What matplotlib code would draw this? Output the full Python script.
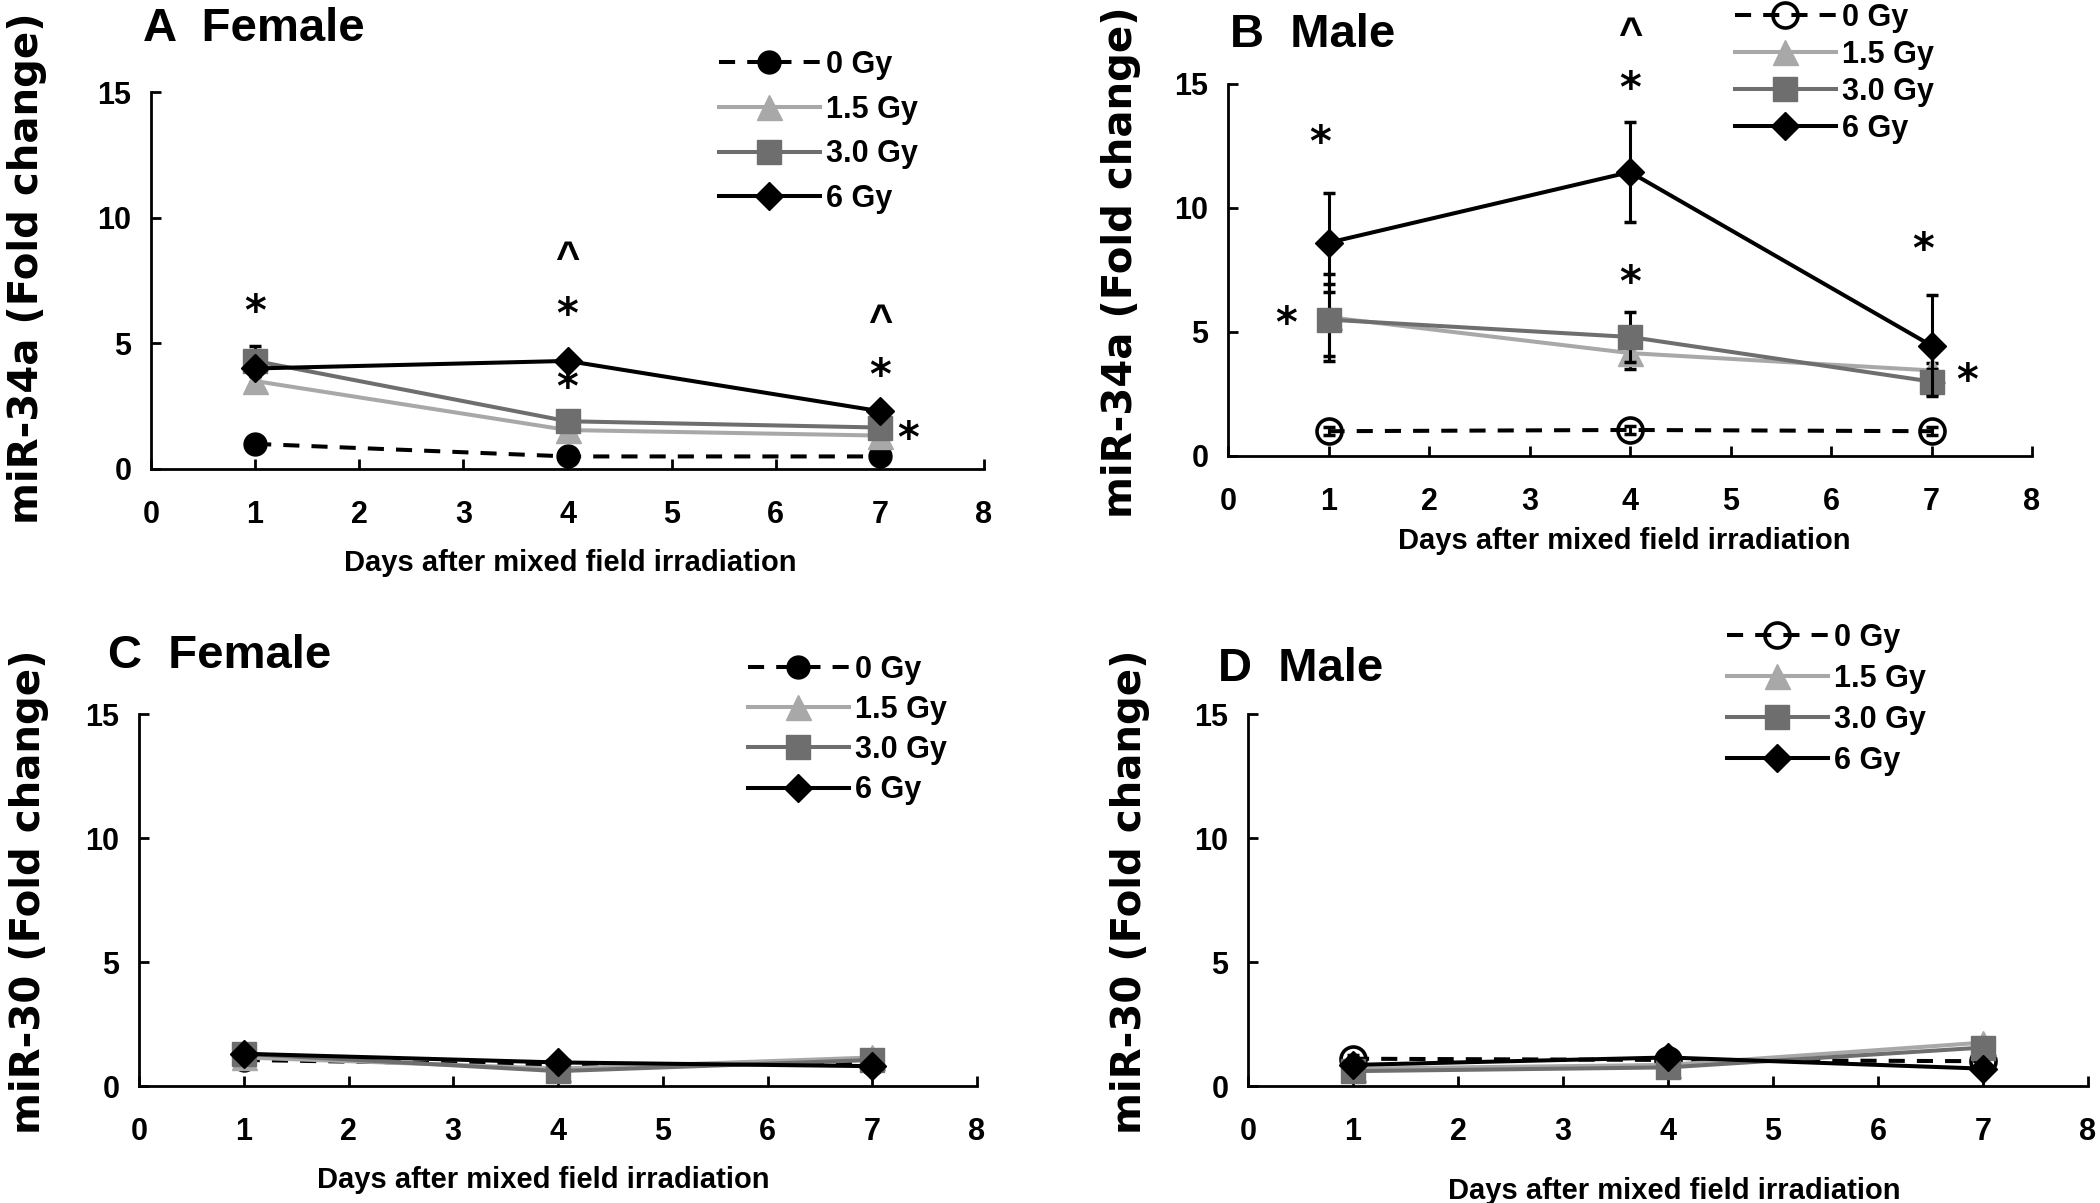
"""miR-34a / miR-30 fold change after mixed field irradiation, four panels."""
import matplotlib
matplotlib.use("Agg")
import matplotlib.pyplot as plt

W, H = 2100, 1203
fig = plt.figure(figsize=(W / 100, H / 100), dpi=100)

NARROW = ["Liberation Sans Narrow", "Liberation Sans", "DejaVu Sans"]
WIDE = ["DejaVu Sans"]

days = [1, 4, 7]
doses = ["0 Gy", "1.5 Gy", "3.0 Gy", "6 Gy"]

# ---- data ----
# A: miR-34a, female
a_0gy = [1.0, 0.5, 0.5]
a_15gy = [3.5, 1.55, 1.33]
a_30gy = [4.3, 1.9, 1.65]
a_6gy = [4.0, 4.3, 2.3]
a_err = [[0.05, 0.05, 0.05], [0.2, 0.15, 0.1], [0.6, 0.2, 0.15], [0.2, 0.2, 0.2]]

# B: miR-34a, male
b_0gy = [1.0, 1.05, 1.0]
b_15gy = [5.6, 4.15, 3.45]
b_30gy = [5.5, 4.8, 3.0]
b_6gy = [8.6, 11.45, 4.45]
b_err = [[0.15, 0.15, 0.15], [1.75, 0.65, 0.3], [1.45, 1.0, 0.5], [2.0, 2.0, 2.05]]

# C: miR-30, female
c_0gy = [1.05, 0.85, 0.9]
c_15gy = [1.15, 0.7, 1.15]
c_30gy = [1.3, 0.6, 1.05]
c_6gy = [1.3, 0.95, 0.8]
c_err = [[0.1, 0.1, 0.1], [0.1, 0.1, 0.15], [0.1, 0.1, 0.1], [0.1, 0.1, 0.1]]

# D: miR-30, male
d_0gy = [1.1, 1.05, 1.0]
d_15gy = [0.7, 0.85, 1.75]
d_30gy = [0.6, 0.75, 1.55]
d_6gy = [0.85, 1.15, 0.7]
d_err = [[0.15, 0.15, 0.1], [0.1, 0.1, 0.2], [0.1, 0.1, 0.2], [0.1, 0.15, 0.1]]

# significance marks (x, y, symbol)
a_marks = [(1, 6.2, "*"), (4, 8.3, "^"), (4, 6.1, "*"), (4, 3.2, "*"),
           (7, 5.8, "^"), (7, 3.65, "*"), (7.27, 1.15, "*")]
b_marks = [(0.92, 12.6, "*"), (0.58, 5.3, "*"), (4, 16.95, "^"), (4, 14.75, "*"),
           (4, 6.95, "*"), (6.92, 8.25, "*"), (7.35, 3.0, "*")]

colors = ["black", "#a8a8a8", "#6e6e6e", "black"]
markers = ["o", "^", "s", "D"]
msizes = [16.5, 18, 17, 14.5]


def px_rect(l, t, r, b):
    return [l / W, 1 - b / H, (r - l) / W, (b - t) / H]


def fig_text(x, y, s, **kw):
    fig.text(x / W, 1 - y / H, s, **kw)


def panel(rect, series, errs, hollow, ylab, ylab_xy, title, title_xy,
          xlab_xy, leg_xy, leg_space, marks=()):
    ax = fig.add_axes(px_rect(*rect))
    ax.set_xlim(0, 8)
    ax.set_ylim(0, 15)
    ax.set_xticks(range(9))
    ax.set_yticks([0, 5, 10, 15])
    for s in ("top", "right"):
        ax.spines[s].set_visible(False)
    for s in ("left", "bottom"):
        ax.spines[s].set_linewidth(2.0)
    ax.tick_params(axis="both", direction="in", length=7.5, width=2.0)
    ax.tick_params(axis="x", pad=22)
    ax.tick_params(axis="y", pad=14)
    for lab in ax.get_xticklabels() + ax.get_yticklabels():
        lab.set_family(NARROW)
        lab.set_fontweight("bold")
        lab.set_fontsize(22)

    handles = []
    for i, (vals, err) in enumerate(zip(series, errs)):
        hollow_pt = i == 0 and hollow
        mfc = "none" if hollow_pt else colors[i]
        ls = "--" if i == 0 else "-"
        ax.errorbar(days, vals, yerr=err, fmt="none", ecolor="black",
                    elinewidth=2.2, capsize=4.5, capthick=2.5, zorder=2 + i)
        line, = ax.plot(days, vals, color=colors[i], ls=ls, lw=2.9,
                        marker=markers[i],
                        ms=18 if hollow_pt else msizes[i], mfc=mfc,
                        mec=colors[i], mew=2.6 if hollow_pt else 1.0,
                        zorder=3 + i, clip_on=False)
        if i == 0:
            line.set_dashes((4, 3))
        handles.append(line)

    for x, y, s in marks:
        fam = WIDE if s == "*" else NARROW
        ax.text(x, y, s, ha="center", va="center", fontsize=30,
                fontweight="bold", family=fam, zorder=10)

    fig.legend(handles, doses, loc="upper left",
               bbox_to_anchor=(leg_xy[0] / W, 1 - leg_xy[1] / H),
               frameon=False, borderpad=0, borderaxespad=0,
               handlelength=3.3, handletextpad=0.2, labelspacing=leg_space,
               prop=dict(family=NARROW, weight="bold", size=22))

    fig_text(*ylab_xy, ylab, rotation=90, ha="center", va="center",
             fontsize=29, fontweight="bold", family=WIDE)
    fig_text(*title_xy, title, ha="left", va="baseline", fontsize=34,
             fontweight="bold", family=NARROW)
    fig_text(*xlab_xy, "Days after mixed field irradiation", ha="center",
             va="center", fontsize=21, fontweight="bold", family=NARROW)
    return ax


panel((151, 92, 984, 469), [a_0gy, a_15gy, a_30gy, a_6gy], a_err, False,
      "miR-34a (Fold change)", (27, 268), "A  Female", (143, 41),
      (570, 563), (719, 50), 0.48, a_marks)
panel((1228, 84, 2032, 456), [b_0gy, b_15gy, b_30gy, b_6gy], b_err, True,
      "miR-34a (Fold change)", (1121, 262), "B  Male", (1230, 47),
      (1624, 541), (1735, 3), 0.23, b_marks)
panel((139, 714, 977, 1086), [c_0gy, c_15gy, c_30gy, c_6gy], c_err, False,
      "miR-30 (Fold change)", (29, 892), "C  Female", (108, 668),
      (543, 1180), (748, 655), 0.33)
panel((1248, 714, 2088, 1086), [d_0gy, d_15gy, d_30gy, d_6gy], d_err, True,
      "miR-30 (Fold change)", (1130, 892), "D  Male", (1218, 681),
      (1674, 1191), (1727, 623), 0.36)

fig.savefig("out.png", dpi=100, facecolor="white")
